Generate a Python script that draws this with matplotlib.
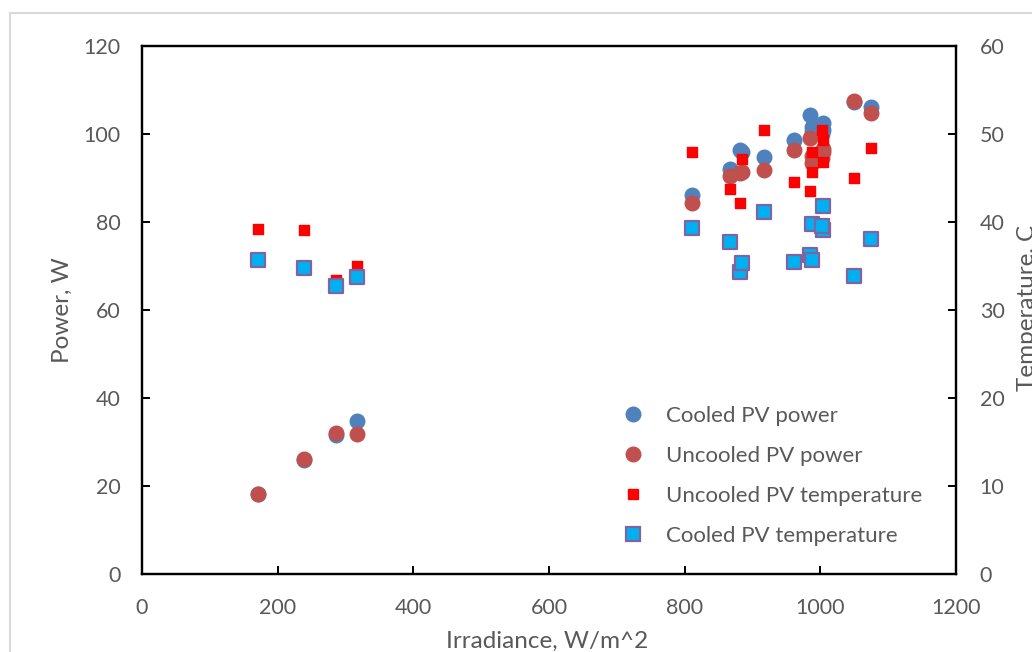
import matplotlib
matplotlib.use("Agg")
import matplotlib.pyplot as plt
from matplotlib.patches import Rectangle
from matplotlib.lines import Line2D

irradiance = [171, 239, 286, 317, 811, 867, 882, 884, 917, 961, 985, 988, 988, 1004, 1004, 1003, 1050, 1075]
cooled_power = [18.2, 25.9, 31.6, 34.8, 86.1, 92.0, 96.4, 96.0, 94.8, 98.6, 104.3, 101.6, 100.5, 102.5, 101.0, 100.0, 107.2, 106.1]
uncooled_power = [18.2, 26.1, 32.0, 31.8, 84.3, 90.5, 91.1, 91.3, 91.8, 96.4, 99.1, 95.0, 93.5, 95.9, 96.5, 94.5, 107.5, 104.8]
uncooled_temp = [39.2, 39.1, 33.4, 35.0, 47.95, 43.75, 42.2, 47.2, 50.45, 44.5, 43.5, 48.0, 45.7, 49.3, 46.8, 50.45, 45.0, 48.4]
cooled_temp = [35.7, 34.8, 32.7, 33.75, 39.3, 37.7, 34.3, 35.3, 41.1, 35.5, 36.25, 35.7, 39.8, 41.8, 39.1, 39.6, 33.9, 38.1]

x_ticks = [0, 200, 400, 600, 800, 1000, 1200]
power_ticks = [0, 20, 40, 60, 80, 100, 120]
temp_ticks = [0, 10, 20, 30, 40, 50, 60]

plt.rcParams['font.family'] = ['Lato', 'DejaVu Sans']
gray = '#595959'

W, H = 1032, 652
fig = plt.figure(figsize=(W / 100, H / 100), dpi=100)
fig.patches.append(Rectangle((10 / W, -0.05), 1.2, 1 - 13 / H + 0.05, transform=fig.transFigure,
                             fill=False, edgecolor='#D9D9D9', linewidth=1.5))

ax = fig.add_axes([142 / W, 1 - 574 / H, (956 - 142) / W, (574 - 46) / H])
ax2 = ax.twinx()

c_blue = '#4F81BD'
c_red = '#C0504D'
ax.scatter(irradiance, cooled_power, s=110, color=c_blue, zorder=3)
ax.scatter(irradiance, uncooled_power, s=110, color=c_red, zorder=4)
ax2.scatter(irradiance, uncooled_temp, s=55, marker='s', color='#FF0000', zorder=5)
ax2.scatter(irradiance, cooled_temp, s=95, marker='s', facecolor='#00B0F0', edgecolor='#8064A2', linewidth=1.6, zorder=6)

ax.set_xlim(0, 1200)
ax.set_ylim(0, 120)
ax2.set_ylim(0, 60)
ax.set_xticks(x_ticks)
ax.set_yticks(power_ticks)
ax2.set_yticks(temp_ticks)

for a in (ax, ax2):
    for sp in a.spines.values():
        sp.set_color('black')
        sp.set_linewidth(1.6)
    a.tick_params(direction='in', length=6, width=1.4, colors='black', labelcolor=gray, labelsize=15.5)
ax.tick_params(axis='x', pad=17)
ax.tick_params(axis='y', pad=15.5)
ax2.tick_params(axis='y', pad=17)

fig.text(62 / W, 1 - 310 / H, 'Power, W', rotation=90, ha='center', va='center', fontsize=17.5, color=gray)
fig.text(1027 / W, 1 - 308 / H, 'Temperature, C', rotation=90, ha='center', va='center', fontsize=17.5, color=gray)
fig.text(547 / W, 1 - 641 / H, 'Irradiance, W/m^2', ha='center', va='center', fontsize=17.5, color=gray)

handles = [
    Line2D([], [], linestyle='none', marker='o', markersize=10.5, color=c_blue),
    Line2D([], [], linestyle='none', marker='o', markersize=10.5, color=c_red),
    Line2D([], [], linestyle='none', marker='s', markersize=7.5, color='#FF0000'),
    Line2D([], [], linestyle='none', marker='s', markersize=9.5, markerfacecolor='#00B0F0',
           markeredgecolor='#8064A2', markeredgewidth=1.6),
]
labels = ['Cooled PV power', 'Uncooled PV power', 'Uncooled PV temperature', 'Cooled PV temperature']
leg = fig.legend(handles, labels, loc='upper left', bbox_to_anchor=(616 / W, 1 - 406 / H),
                 frameon=False, fontsize=16, labelspacing=0.9, handletextpad=0.73,
                 handlelength=1.5, borderpad=0, borderaxespad=0)
for t in leg.get_texts():
    t.set_color(gray)

fig.savefig('out.png', dpi=100)
